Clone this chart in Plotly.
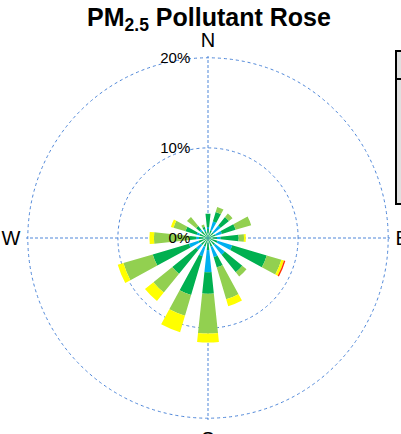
import plotly.graph_objects as go

directions = ["N", "NNE", "NE", "ENE", "E", "ESE", "SE", "SSE",
              "S", "SSW", "SW", "WSW", "W", "WNW", "NW", "NNW"]
dir_deg = [0, 22.5, 45, 67.5, 90, 112.5, 135, 157.5,
           180, 202.5, 225, 247.5, 270, 292.5, 315, 337.5]

# frequency (%) of each concentration bin per direction
bin1 = [1.0, 0.9, 0.8, 0.9, 1.0, 1.1, 1.0, 1.0, 1.35, 1.0, 1.0, 1.1, 1.0, 1.0, 1.0, 0.8]
bin2 = [0.2, 1.0, 1.0, 0.7, 0.4, 1.7, 1.4, 1.2, 2.45, 1.1, 0.7, 1.1, 0.3, 0.3, 0.2, 0.2]
bin3 = [1.5, 1.1, 1.2, 1.6, 2.0, 4.0, 2.5, 1.2, 2.4, 4.5, 3.4, 4.2, 0.7, 1.3, 0.5, 0.3]
bin4 = [0.0, 0.6, 0.5, 1.8, 0.6, 1.7, 0.6, 3.7, 4.4, 2.4, 2.7, 3.4, 4.0, 1.4, 1.3, 0.25]
bin5 = [0.0, 0.0, 0.0, 0.0, 0.2, 0.3, 0.0, 0.8, 1.0, 1.9, 1.2, 0.65, 0.5, 0.3, 0.0, 0.0]
bin6 = [0.0, 0.0, 0.0, 0.0, 0.0, 0.15, 0.0, 0.0, 0.0, 0.0, 0.0, 0.0, 0.0, 0.0, 0.0, 0.0]

bins = [bin1, bin2, bin3, bin4, bin5, bin6]
colors = ["#00B050", "#00B0F0", "#00B050", "#92D050", "#FFFF00", "#FF3300"]

r_ticks = [0, 10, 20]
r_tick_text = ["0%", "10%", "20%"]
compass_deg = [0, 90, 180, 270]
compass_text = ["N", "E", "S", "W"]

W, H = 401, 434
r_max = 20.2
cx, cy, R = 208, 238, 182

fig = go.Figure()
for vals, col in zip(bins, colors):
    fig.add_trace(go.Barpolar(
        r=vals, theta=dir_deg, width=[12] * len(dir_deg),
        marker=dict(color=col, line=dict(width=0)),
        showlegend=False, hoverinfo="skip"))

# legend frame, cut off at the right edge as in the reference
lx0, lx1 = 396 / W, 1.05
ly0, ly1, lyh = 1 - 204 / H, 1 - 51 / H, 1 - 79 / H

grid_col = "#4F87D9"
fig.update_layout(
    width=W, height=H,
    margin=dict(l=0, r=0, t=0, b=0),
    paper_bgcolor="white",
    font=dict(family="Liberation Sans, Arial", color="black"),
    title=dict(text="<b>PM<sub>2.5</sub> Pollutant Rose</b>",
               x=209 / W, xanchor="center", y=1 - 17 / H, yanchor="middle",
               font=dict(size=25, family="Liberation Sans, Arial", color="black")),
    polar=dict(
        domain=dict(x=[(cx - R) / W, (cx + R) / W],
                    y=[(H - cy - R) / H, (H - cy + R) / H]),
        bgcolor="white",
        barmode="stack",
        radialaxis=dict(range=[0, r_max], tickvals=r_ticks, ticktext=r_tick_text,
                        angle=90, tickangle=90, side="counterclockwise",
                        showline=False, ticks="outside", ticklen=12,
                        tickcolor="rgba(0,0,0,0)",
                        gridcolor=grid_col, griddash="dot", gridwidth=1,
                        tickfont=dict(size=15, color="black")),
        angularaxis=dict(rotation=90, direction="clockwise",
                         tickvals=compass_deg, ticktext=compass_text,
                         showline=False, ticks="outside", ticklen=1,
                         tickcolor="rgba(0,0,0,0)",
                         gridcolor=grid_col, griddash="3px,2px", gridwidth=1,
                         tickfont=dict(size=20, color="black")),
    ),
    shapes=[
        dict(type="rect", xref="paper", yref="paper",
             x0=lx0, x1=lx1, y0=ly0, y1=ly1,
             fillcolor="#E0E0E0", line=dict(color="black", width=2), layer="above"),
        dict(type="line", xref="paper", yref="paper",
             x0=lx0, x1=lx1, y0=lyh, y1=lyh,
             line=dict(color="black", width=2), layer="above"),
    ],
)

fig.write_html(
    "out.html",
    config={"displayModeBar": False},
    post_script="document.body.style.margin='0';document.body.style.overflow='hidden';",
)
